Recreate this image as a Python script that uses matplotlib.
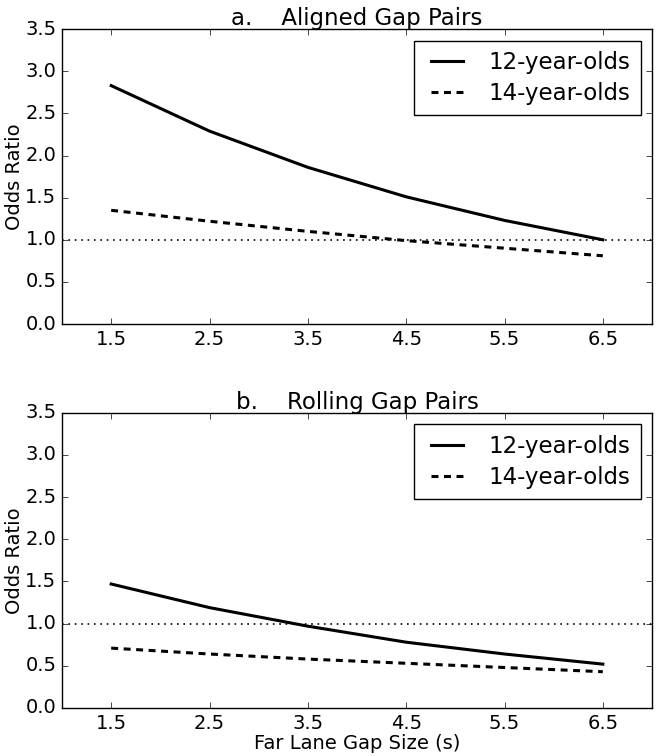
import matplotlib
matplotlib.use('Agg')
import matplotlib.pyplot as plt

plt.style.use('classic')

# gap size (s)
gap = [1.5, 2.5, 3.5, 4.5, 5.5, 6.5]

# a. aligned gap pairs
aligned_12 = [2.83, 2.29, 1.86, 1.51, 1.23, 1.00]
aligned_14 = [1.35, 1.22, 1.10, 0.99, 0.90, 0.81]

# b. rolling gap pairs
rolling_12 = [1.47, 1.19, 0.97, 0.78, 0.64, 0.52]
rolling_14 = [0.71, 0.64, 0.58, 0.53, 0.48, 0.43]

tick_labels = ['1.5', '2.5', '3.5', '4.5', '5.5', '6.5']

fig = plt.figure(figsize=(6.57, 7.56), dpi=100, facecolor='white')
ax_a = fig.add_axes([0.0944, 0.5714, 0.898, 0.390])
ax_b = fig.add_axes([0.0944, 0.0635, 0.898, 0.3905])


# Funktsioon ühe paneeli joonistamiseks
def paneel(ax, y12, y14, pealkiri):
    ax.plot(gap, y12, color='black', lw=2.2, ls='-', label='12-year-olds')
    ax.plot(gap, y14, color='black', lw=2.2, ls='--', dashes=(5, 4), label='14-year-olds')
    # võrdlusjoon (odds ratio = 1)
    ax.axhline(1.0, color='black', lw=1.2, ls=':', dashes=(1.2, 3.4))
    ax.set_xlim(1.0, 7.0)
    ax.set_ylim(0.0, 3.5)
    ax.set_xticks(gap)
    ax.set_xticklabels(tick_labels)
    ax.set_yticks([0.0, 0.5, 1.0, 1.5, 2.0, 2.5, 3.0, 3.5])
    ax.tick_params(labelsize=14)
    ax.set_ylabel('Odds Ratio', fontsize=14, labelpad=1)
    ax.set_title(pealkiri, fontsize=16.5, y=1.0, pad=3)
    leg = ax.legend(loc='upper right', fontsize=16.5, handlelength=2.0,
                    borderpad=0.45, labelspacing=0.35, handletextpad=0.8,
                    borderaxespad=0.5, fancybox=False)
    leg.get_frame().set_linewidth(1)


paneel(ax_a, aligned_12, aligned_14, 'a.    Aligned Gap Pairs')
paneel(ax_b, rolling_12, rolling_14, 'b.    Rolling Gap Pairs')
ax_b.set_xlabel('Far Lane Gap Size (s)', fontsize=14, labelpad=1)

fig.savefig('out.png', dpi=100, facecolor='white')
